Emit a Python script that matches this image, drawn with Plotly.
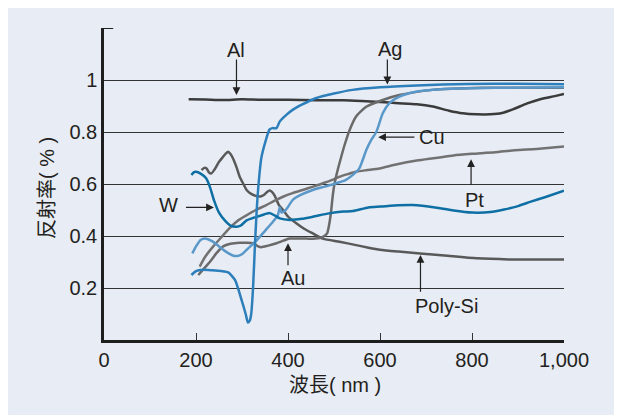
import plotly.graph_objects as go

# ---------------- data ----------------
al_x = [184, 220, 260, 300, 340, 400, 460, 520, 560, 600, 640, 680, 715, 750, 780, 810, 840, 865, 890, 920, 950, 980, 1000]
al_y = [0.926, 0.925, 0.923, 0.926, 0.924, 0.924, 0.922, 0.922, 0.919, 0.915, 0.911, 0.907, 0.898, 0.882, 0.872, 0.868, 0.868, 0.873, 0.888, 0.91, 0.927, 0.938, 0.946]

ag_x = [190, 200, 215, 235, 255, 270, 285, 298, 308, 313, 317, 320, 324, 328, 332, 336, 342, 352, 360, 366, 375, 382, 394, 410, 430, 460, 500, 540, 600, 680, 790, 900, 1000]
ag_y = [0.25, 0.265, 0.27, 0.268, 0.265, 0.26, 0.23, 0.16, 0.1, 0.067, 0.075, 0.1, 0.2, 0.36, 0.5, 0.6, 0.7, 0.77, 0.81, 0.815, 0.815, 0.84, 0.862, 0.885, 0.905, 0.93, 0.948, 0.962, 0.972, 0.979, 0.985, 0.986, 0.984]

cu_x = [192, 200, 210, 220, 235, 250, 265, 280, 290, 300, 312, 330, 350, 365, 378, 382, 386, 395, 411, 430, 454, 480, 505, 525, 541, 555, 570, 581, 592, 606, 620, 642, 678, 751, 850, 1000]
cu_y = [0.333, 0.36, 0.385, 0.39, 0.38, 0.36, 0.34, 0.325, 0.323, 0.33, 0.35, 0.38, 0.42, 0.45, 0.48, 0.51, 0.49, 0.5, 0.54, 0.56, 0.577, 0.59, 0.603, 0.615, 0.635, 0.66, 0.73, 0.77, 0.8, 0.872, 0.91, 0.936, 0.955, 0.966, 0.97, 0.972]

au_x = [205, 215, 230, 245, 259, 275, 295, 310, 324, 335, 342, 355, 375, 390, 403, 420, 440, 460, 476, 485, 490, 494, 497, 501, 508, 515, 523, 534, 548, 570, 606, 642, 714, 823, 1000]
au_y = [0.25, 0.27, 0.30, 0.335, 0.36, 0.37, 0.374, 0.374, 0.372, 0.36, 0.357, 0.362, 0.372, 0.382, 0.39, 0.39, 0.39, 0.39, 0.397, 0.41, 0.449, 0.5, 0.551, 0.6, 0.654, 0.7, 0.75, 0.808, 0.86, 0.897, 0.923, 0.942, 0.962, 0.97, 0.97]

pt_x = [208, 220, 237, 255, 273, 290, 310, 330, 353, 370, 389, 410, 432, 455, 476, 495, 512, 530, 548, 570, 599, 635, 680, 721, 760, 800, 850, 893, 940, 1000]
pt_y = [0.282, 0.32, 0.359, 0.395, 0.43, 0.458, 0.48, 0.5, 0.519, 0.535, 0.551, 0.565, 0.577, 0.59, 0.603, 0.615, 0.628, 0.638, 0.647, 0.653, 0.66, 0.675, 0.69, 0.7, 0.71, 0.716, 0.722, 0.73, 0.735, 0.744]

si_x = [212, 218, 223, 228, 233, 240, 250, 259, 265, 270, 275, 280, 288, 295, 303, 310, 320, 331, 340, 349, 355, 360, 365, 371, 380, 389, 400, 418, 435, 454, 476, 512, 548, 575, 600, 640, 687, 740, 810, 880, 1000]
si_y = [0.654, 0.662, 0.66, 0.645, 0.64, 0.655, 0.685, 0.705, 0.718, 0.724, 0.715, 0.7, 0.665, 0.628, 0.6, 0.577, 0.562, 0.554, 0.552, 0.56, 0.57, 0.575, 0.57, 0.555, 0.52, 0.5, 0.475, 0.449, 0.428, 0.41, 0.39, 0.378, 0.365, 0.355, 0.347, 0.34, 0.333, 0.325, 0.314, 0.31, 0.31]

w_x = [190, 195, 200, 210, 222, 230, 239, 250, 265, 275, 288, 297, 310, 325, 343, 360, 372, 382, 404, 430, 454, 489, 520, 541, 575, 601, 640, 671, 720, 760, 800, 840, 870, 900, 928, 960, 1000]
w_y = [0.635, 0.645, 0.647, 0.64, 0.622, 0.59, 0.538, 0.49, 0.455, 0.44, 0.436, 0.44, 0.46, 0.47, 0.48, 0.488, 0.478, 0.468, 0.462, 0.466, 0.474, 0.487, 0.494, 0.496, 0.51, 0.513, 0.518, 0.519, 0.51, 0.498, 0.49, 0.492, 0.502, 0.515, 0.532, 0.55, 0.574]

x_ticks = [0, 200, 400, 600, 800, 1000]
x_ticktext = ["0", "200", "400", "600", "800", "1,000"]
y_ticks = [0.2, 0.4, 0.6, 0.8, 1.0]
y_ticktext = ["0.2", "0.4", "0.6", "0.8", "1"]

# label text positions and arrow (head / tail) positions
labels = [
    ("Al", 288, 1.115),
    ("Ag", 622, 1.12),
    ("Cu", 712, 0.78),
    ("Pt", 805, 0.538),
    ("W", 140, 0.52),
    ("Au", 411, 0.237),
    ("Poly-Si", 744, 0.131),
]
arrows = [  # head x, head y, tail x, tail y
    (288, 0.942, 288, 1.085),
    (616, 0.983, 616, 1.085),
    (596, 0.78, 678, 0.78),
    (798, 0.695, 798, 0.59),
    (239, 0.51, 175, 0.51),
    (400, 0.372, 400, 0.282),
    (688, 0.327, 688, 0.18),
]

# ---------------- styling ----------------
FONT = "Liberation Sans, Arial, Noto Sans CJK JP, sans-serif"
TXT = "#231f20"

series = [
    (al_x, al_y, "#3b3b3b"),
    (si_x, si_y, "#595959"),
    (pt_x, pt_y, "#727272"),
    (au_x, au_y, "#6a6a6a"),
    (cu_x, cu_y, "#5b98ca"),
    (w_x, w_y, "#0e6fa4"),
    (ag_x, ag_y, "#2d7fbb"),
]

fig = go.Figure()
for xs, ys, c in series:
    fig.add_trace(go.Scatter(x=xs, y=ys, mode="lines",
                             line=dict(color=c, width=2.5, shape="spline", smoothing=0.6),
                             showlegend=False, hoverinfo="skip"))

annotations = []
for t, x, y in labels:
    annotations.append(dict(x=x, y=y, xref="x", yref="y", text=t, showarrow=False,
                            xanchor="center", yanchor="middle",
                            font=dict(family=FONT, size=20, color=TXT)))
for hx, hy, tx, ty in arrows:
    annotations.append(dict(x=hx, y=hy, ax=tx, ay=ty, xref="x", yref="y", axref="x", ayref="y",
                            text="", showarrow=True, arrowhead=2, arrowsize=1.3,
                            arrowwidth=1.2, arrowcolor="#222222", standoff=0, startstandoff=0))
# axis titles
annotations.append(dict(x=0.5027, y=-0.144, xref="paper", yref="paper", text="波長( nm )",
                        xanchor="center", yanchor="middle",
                        showarrow=False, font=dict(family=FONT, size=20, color=TXT)))
annotations.append(dict(x=-0.124, y=0.487, xref="paper", yref="paper", text="反射率( % )",
                        xanchor="center", yanchor="middle",
                        textangle=-90, showarrow=False, font=dict(family=FONT, size=20, color=TXT)))

shapes = [
    dict(type="rect", xref="paper", yref="paper", x0=-0.2067, x1=1.3, y0=-0.4, y1=1.2,
         fillcolor="#e8ecf4", line=dict(width=0), layer="below"),
    dict(type="line", xref="x", yref="y", x0=0, x1=20, y0=1.2, y1=1.2,
         line=dict(color="#222222", width=2)),
]

# page body has an 8px margin, so the figure is 8px smaller than the window
fig.update_layout(
    width=614, height=407,
    margin=dict(l=96, r=58, t=20, b=75),
    paper_bgcolor="#e8ecf4",
    plot_bgcolor="#b5c6dd",
    font=dict(family=FONT, size=20, color=TXT),
    annotations=annotations,
    shapes=shapes,
    xaxis=dict(range=[0, 1000], tickvals=x_ticks, ticktext=x_ticktext,
               ticks="inside", ticklen=7, tickwidth=1.2, tickcolor="#333333",
               showgrid=False, zeroline=False, showline=True, linecolor="#1e1e1e", linewidth=2.5,
               tickfont=dict(family=FONT, size=20, color=TXT)),
    yaxis=dict(range=[0, 1.2], tickvals=y_ticks, ticktext=y_ticktext,
               ticks="", showgrid=True, gridcolor="#333333", gridwidth=1.2,
               zeroline=False, showline=True, linecolor="#1e1e1e", linewidth=2.5,
               tickfont=dict(family=FONT, size=20, color=TXT)),
)

fig.write_html("out.html")
